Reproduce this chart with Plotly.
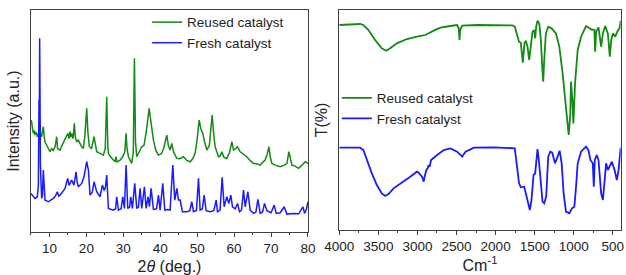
import plotly.graph_objects as go

# ---------------- XRD data (2theta, intensity a.u.) ----------------
xrd_reused_2theta = [5.0, 5.18, 5.4, 5.63, 5.9, 6.08, 6.4, 6.72, 7.0, 7.17, 7.35, 7.6, 7.89, 8.1, 8.34, 8.6, 8.79, 9.2, 9.7,
    10.15, 10.6, 11.05, 11.5, 11.96, 12.2, 12.86, 13.3, 13.8, 14.21, 14.67, 15.0, 15.3, 15.57, 15.8, 16.02, 16.4, 16.74,
    17.0, 17.4, 17.83, 18.3, 18.73, 19.18, 19.6, 20.09, 20.4, 20.81, 21.4, 22.07, 22.4, 22.8, 23.7, 24.6, 25.1, 25.51,
    25.8, 25.96, 26.6, 27.31, 27.76, 28.04, 28.3, 29.12, 29.8, 30.4, 30.75, 31.0, 31.38, 32.28, 32.7, 33.0, 33.3, 33.64,
    34.3, 34.99, 35.6, 36.2, 36.98, 37.5, 38.15, 38.8, 39.51, 40.3, 40.9, 41.77, 42.2, 42.67, 43.12, 43.6, 44.48, 45.3,
    46.28, 47.19, 48.09, 48.8, 49.44, 50.0, 50.53, 51.0, 51.52, 52.0, 52.61, 53.3, 54.05, 54.5, 54.86, 55.77, 56.3,
    56.67, 57.2, 58.02, 58.8, 59.38, 59.83, 60.4, 60.92, 61.64, 62.5, 63.45, 64.3, 65.25, 66.2, 67.06, 67.8, 68.41,
    69.0, 69.41, 69.8, 70.22, 71.3, 72.48, 73.5, 74.29, 74.83, 75.3, 75.64, 76.5, 77.45, 78.3, 79.25, 80.0]
xrd_reused_int = [336, 331, 310, 296, 305, 291, 300, 286, 295, 282, 340, 290, 286, 300, 316, 285, 270, 262, 250,
    241, 250, 245, 255, 286, 250, 246, 258, 270, 280, 286, 296, 280, 301, 285, 296, 280, 326,
    285, 270, 276, 265, 256, 251, 290, 371, 300, 256, 250, 286, 260, 241, 236, 231, 250, 406,
    260, 236, 225, 215, 211, 226, 210, 216, 225, 240, 296, 250, 226, 206, 240, 521, 270, 226,
    240, 256, 260, 300, 371, 330, 276, 245, 231, 235, 250, 291, 260, 246, 266, 240, 221, 220,
    226, 215, 211, 220, 236, 280, 336, 310, 296, 270, 246, 260, 351, 290, 256, 226, 230,
    241, 225, 221, 240, 271, 246, 250, 256, 241, 235, 226, 215, 206, 205, 201, 210, 216,
    235, 256, 225, 206, 200, 196, 200, 206, 241, 215, 201, 198, 191, 200, 211, 206]

xrd_fresh_2theta = [5.0, 5.63, 6.08, 6.72, 7.0, 7.17, 7.25, 7.35, 7.55, 7.89, 8.1, 8.34, 8.6, 8.79, 9.7, 10.4, 11.05,
    11.6, 12.14, 12.5, 12.86, 13.5, 14.21, 14.94, 15.3, 15.57, 16.02, 16.65, 17.2, 17.5, 17.83, 18.73, 19.36, 20.09,
    20.54, 20.99, 21.6, 22.07, 22.5, 22.8, 23.7, 24.33, 24.78, 25.1, 25.51, 25.96, 27.31, 27.9, 28.22, 28.67, 29.4,
    29.84, 30.29, 30.75, 31.2, 31.7, 32.01, 32.46, 33.09, 33.64, 34.1, 34.54, 34.99, 35.71, 36.17, 36.71, 37.07,
    37.52, 38.15, 39.0, 39.51, 39.96, 40.68, 41.22, 42.0, 42.67, 43.39, 43.93, 44.48, 44.93, 45.38, 46.01, 47.19,
    48.0, 48.54, 48.99, 49.8, 50.35, 50.8, 51.4, 51.88, 52.43, 53.51, 54.5, 55.14, 55.5, 56.2, 56.76, 57.3, 58.02,
    58.57, 59.11, 59.56, 60.3, 60.92, 61.46, 62.0, 62.54, 62.99, 63.72, 64.35, 65.25, 65.9, 66.43, 67.06, 67.7,
    68.23, 68.87, 70.0, 70.85, 71.4, 72.5, 73.56, 74.29, 76.09, 77.5, 78.62, 79.07, 79.6, 80.0]
xrd_fresh_int = [116, 106, 101, 106, 140, 396, 300, 581, 200, 101, 110, 186, 110, 96, 91, 95, 101,
    108, 121, 108, 111, 120, 131, 161, 140, 146, 156, 141, 181, 150, 136, 146, 166, 211,
    186, 111, 120, 151, 130, 121, 106, 141, 126, 130, 171, 71, 66, 70, 106, 66, 70,
    106, 71, 201, 71, 75, 106, 71, 146, 71, 75, 131, 71, 136, 71, 106, 76,
    131, 68, 70, 111, 66, 146, 66, 68, 66, 201, 96, 131, 96, 96, 61, 61,
    64, 91, 61, 65, 161, 66, 70, 111, 64, 61, 64, 96, 61, 66, 164, 76, 106,
    86, 111, 76, 70, 86, 61, 66, 126, 76, 121, 66, 56, 60, 98, 56, 60,
    86, 64, 58, 81, 56, 58, 76, 54, 56, 55, 76, 56, 70, 91]

# ---------------- FTIR data (wavenumber cm-1, T a.u.) ----------------
ir_reused_wn = [4000, 3734, 3692, 3627, 3542, 3456, 3400, 3349, 3263, 3135, 3006, 2899, 2792, 2706, 2578, 2492, 2471,
    2462, 2453, 2428, 2235, 2021, 1785, 1755, 1729, 1700, 1678, 1652, 1631, 1614, 1592, 1571, 1550, 1528, 1507, 1494,
    1481, 1464, 1442, 1421, 1404, 1391, 1378, 1357, 1327, 1284, 1228, 1185, 1143, 1100, 1065, 1044, 1036, 1018, 1005,
    984, 950, 907, 843, 778, 736, 727, 714, 684, 650, 628, 598, 564, 539, 521, 500, 470, 444, 414, 400]
ir_reused_t = [615, 618, 615, 600, 570, 545, 538, 545, 560, 573, 580, 585, 598, 607, 612, 615, 605,
    570, 600, 613, 615, 614, 614, 610, 590, 565, 562, 502, 560, 568, 550, 510, 550, 595, 600, 575,
    610, 628, 620, 570, 490, 445, 510, 590, 610, 605, 590, 550, 470, 370, 285, 350, 445, 390, 320,
    440, 540, 580, 612, 602, 600, 535, 595, 608, 550, 590, 612, 590, 520, 570, 590, 580, 595, 605, 628]

ir_fresh_wn = [4000, 3734, 3692, 3649, 3584, 3520, 3456, 3413, 3370, 3306, 3177, 3092, 3006, 2985, 2942, 2920, 2908,
    2886, 2869, 2856, 2843, 2826, 2749, 2663, 2578, 2492, 2428, 2385, 2278, 2021, 1755, 1729, 1700, 1678, 1635, 1614,
    1592, 1562, 1541, 1515, 1494, 1481, 1464, 1447, 1421, 1400, 1378, 1353, 1327, 1301, 1275, 1241, 1207, 1181, 1155,
    1130, 1100, 1057, 1023, 993, 971, 950, 907, 843, 813, 787, 757, 744, 731, 706, 684, 650, 628, 607, 586, 564, 543,
    513, 478, 449, 427, 406, 400]
ir_fresh_t = [247, 247, 240, 210, 170, 135, 110, 102, 108, 125, 145, 160, 175, 172, 160, 145, 160,
    180, 185, 195, 190, 210, 225, 240, 245, 235, 220, 235, 247, 248, 245, 190, 140, 128, 130, 110,
    90, 60, 90, 165, 170, 210, 243, 210, 130, 85, 80, 100, 220, 235, 232, 200, 220, 238, 200,
    110, 55, 50, 65, 70, 130, 200, 235, 250, 240, 210, 200, 130, 210, 225, 210, 110, 90, 150, 200, 180, 190,
    205, 180, 150, 180, 230, 247]

GREEN = "#138a13"
BLUE = "#1a1aff"
FONT = "Liberation Sans, Arial, sans-serif"

fig = go.Figure()
fig.add_trace(go.Scatter(x=xrd_reused_2theta, y=xrd_reused_int, mode="lines", name="Reused catalyst",
                         line=dict(color=GREEN, width=1.5), xaxis="x", yaxis="y", legend="legend"))
fig.add_trace(go.Scatter(x=xrd_fresh_2theta, y=xrd_fresh_int, mode="lines", name="Fresh catalyst",
                         line=dict(color=BLUE, width=1.5), xaxis="x", yaxis="y", legend="legend"))
fig.add_trace(go.Scatter(x=ir_reused_wn, y=ir_reused_t, mode="lines", name="Reused catalyst",
                         line=dict(color=GREEN, width=1.8), xaxis="x2", yaxis="y2", legend="legend2"))
fig.add_trace(go.Scatter(x=ir_fresh_wn, y=ir_fresh_t, mode="lines", name="Fresh catalyst",
                         line=dict(color=BLUE, width=1.8), xaxis="x2", yaxis="y2", legend="legend2"))

frame = dict(showline=True, linecolor="#404040", linewidth=1, mirror=True, showgrid=False, zeroline=False,
             automargin=False)

fig.update_layout(
    width=626, height=275,
    margin=dict(l=0, r=0, t=0, b=0, autoexpand=False),
    paper_bgcolor="white", plot_bgcolor="white",
    font=dict(family=FONT, size=13.5, color="#222"),
    xaxis=dict(domain=[0.0495, 0.492], range=[5, 80], tickvals=[10, 20, 30, 40, 50, 60, 70, 80],
               ticks="outside", ticklen=4, tickcolor="#404040",
               minor=dict(ticks="outside", ticklen=2, dtick=5, tick0=5, tickcolor="#404040"),
               title=dict(text="2<i>θ</i> (deg.)", standoff=5), anchor="y", **frame),
    yaxis=dict(domain=[0.156, 0.9636], range=[0, 666], showticklabels=False, ticks="",
               title=dict(text="Intensity (a.u.)", standoff=6), anchor="x", **frame),
    xaxis2=dict(domain=[0.542, 0.9915], range=[4000, 400], tick0=500, dtick=500,
                ticks="outside", ticklen=4, tickcolor="#404040",
                minor=dict(ticks="outside", ticklen=2, dtick=250, tickcolor="#404040"),
                title=dict(text="Cm<sup>-1</sup>", standoff=2), anchor="y2", **frame),
    yaxis2=dict(domain=[0.1636, 0.9636], range=[0, 660], showticklabels=False, ticks="",
                title=dict(text="T(%)", standoff=6), anchor="x2", **frame),
    legend=dict(x=0.235, y=0.975, xanchor="left", yanchor="top", bgcolor="rgba(0,0,0,0)",
                font=dict(size=13.5), tracegroupgap=0, itemwidth=30),
    legend2=dict(x=0.538, y=0.70, xanchor="left", yanchor="top", bgcolor="rgba(0,0,0,0)",
                 font=dict(size=13.5), tracegroupgap=0, itemwidth=30),
)

fig.write_html("out.html", config={"displayModeBar": False},
               post_script="document.body.style.margin='0';document.body.style.overflow='hidden';")
